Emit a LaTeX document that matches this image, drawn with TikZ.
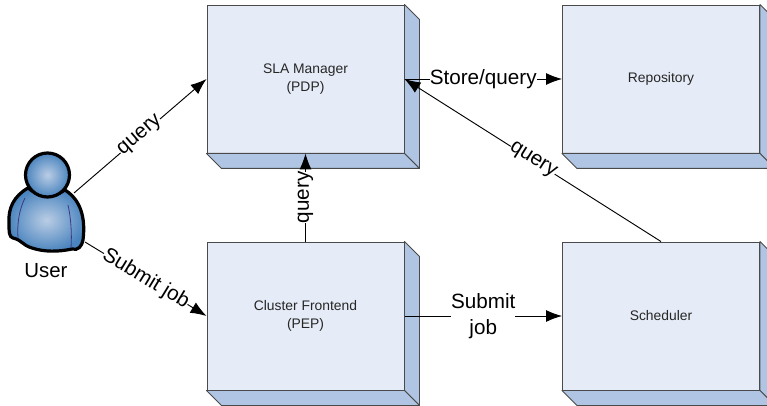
\documentclass[tikz,border=0pt]{standalone}
\usepackage{fontspec}
\setmainfont{Liberation Sans}
\usetikzlibrary{arrows.meta,calc}
\definecolor{boxfront}{HTML}{E6ECF7}
\definecolor{boxside}{HTML}{AFC5E3}
\definecolor{boxline}{HTML}{4A4A4A}
\definecolor{userdark}{HTML}{4A84BE}
\definecolor{userlight}{HTML}{BACDE5}
\definecolor{userseam}{HTML}{3B3A86}
\tikzset{
  slab/.style={draw=boxline,line width=0.7pt,fill=boxfront,minimum width=147.8pt,minimum height=111pt,
    align=center,font=\fontsize{10.4}{13.4}\selectfont,inner sep=0pt,text=black!85},
  slabside/.style={draw=boxline,line width=0.7pt,fill=boxside,line join=round},
  flow/.style={-{Latex[length=12pt,width=9pt]},line width=0.7pt},
  flowtext/.style={midway,fill=white,inner sep=0pt,font=\fontsize{15.5}{19}\selectfont,align=center},
  figure/.style={draw=black,line width=2.4pt,inner color=userlight,outer color=userdark},
  seam/.style={draw=userseam,line width=0.6pt}
}
\newcommand{\slabdepth}[1]{
  \path[slabside] (#1.north east) -- ++(15,15) -- ($(#1.south east)+(15,15)$) -- (#1.south east) -- cycle;
  \path[slabside] (#1.south west) -- ++(15,15) -- ($(#1.south east)+(15,15)$) -- (#1.south east) -- cycle;
}
\begin{document}
\begin{tikzpicture}[x=0.75pt,y=-0.75pt]
      \useasboundingbox (0,0) rectangle (767,406);
      \clip (0,0) rectangle (767,406);
      \draw
        (305.5,79) node[slab] (sla){SLA Manager\\(PDP)}
        (661,79) node[slab] (repo){Repository}
        (305.5,316) node[slab] (frontend){Cluster Frontend\\(PEP)}
        (661,316) node[slab] (sched){Scheduler};
      \slabdepth{sla}
      \slabdepth{repo}
      \slabdepth{frontend}
      \slabdepth{sched}
      % user icon
      \path[figure] (28,188) .. controls (14,196) and (8,208) .. (9,223)
        .. controls (9,232) and (9,237) .. (13,238)
        .. controls (22,240) and (22,245) .. (32,248)
        .. controls (44,252) and (58,252) .. (72,249)
        .. controls (78,251) and (82,246) .. (83,240)
        .. controls (85,224) and (84,202) .. (65,190)
        .. controls (55,197) and (38,197) .. (28,188) -- cycle;
      \draw[seam] (25,198) .. controls (19,210) and (17,224) .. (18,238);
      \draw[seam] (68,205) .. controls (71,218) and (72,234) .. (71,248);
      \draw[seam] (30,189) .. controls (38,198) and (55,198) .. (65,190);
      \path[figure] (47.5,175) circle (22);
      \node[font=\fontsize{15.3}{17}\selectfont] (user) at (46,271) {User};
      \coordinate (userup) at (74,193);
      \coordinate (userdown) at (85,242);
      \begin{scope}[flow]
        \draw (userup) to node[flowtext,sloped] (q1){query} (sla.west);
        \draw (userdown) to node[flowtext,sloped] (s1){Submit job} (frontend.west);
        \draw (frontend.north) to node[flowtext,sloped] (q2){query} (sla.south);
        \draw (frontend.east) to node[flowtext] (s2){Submit\\job} (sched.west);
        \draw (sla.east) to node[flowtext] (s3){Store/query} (repo.west);
        \draw (sched.north) to node[flowtext,sloped] (q3){query} (sla.east);
      \end{scope}
    \end{tikzpicture}
\end{document}
